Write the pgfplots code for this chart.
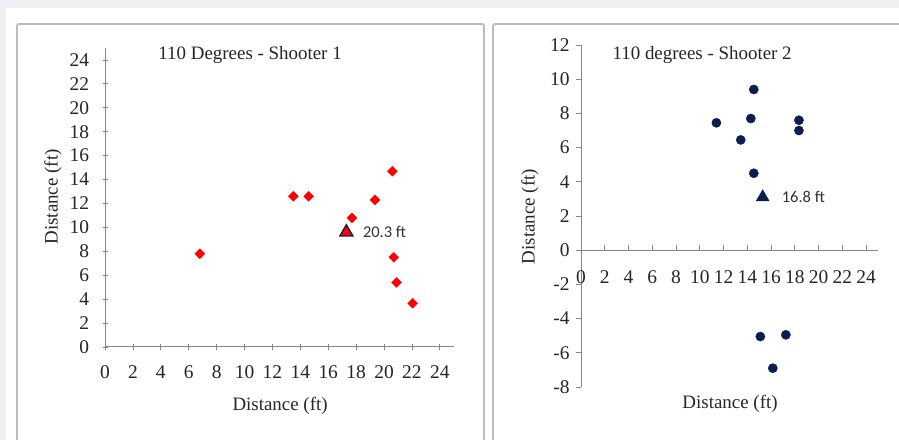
\documentclass[border=0pt]{standalone}
\usepackage{pgfplots}
\pgfplotsset{compat=1.18}
\usepackage{fontspec}
\setmainfont{Liberation Serif}
\newfontfamily\lblfont{Carlito}
\definecolor{bg}{RGB}{238,240,243}
\definecolor{framec}{RGB}{188,188,188}
\definecolor{navy}{RGB}{12,30,80}
\definecolor{axgray}{RGB}{134,134,134}
\pgfplotsset{
  myax/.style={
    scale only axis, clip=false,
    axis line style={-, axgray, line width=1bp},
    tick style={axgray, line width=0.8bp},
    major tick length=5bp,
    tick align=outside,
    ticklabel style={font=\fontsize{19.5}{21}\selectfont, text=black!85},
    title style={font=\fontsize{19}{22}\selectfont, text=black!85, anchor=center},
    /pgf/number format/assume math mode=true,
  }
}
\begin{document}
\begin{tikzpicture}
\useasboundingbox (0,0) rectangle (899bp,440bp);
\fill[bg] (0,0) rectangle (899bp,440bp);
\fill[white] (6bp,0) rectangle (899bp,432bp);
\draw[framec, line width=1.8bp, rounded corners=2bp] (17bp,-5bp) -- (17bp,416bp) -- (484bp,416bp) -- (484bp,-5bp);
\draw[framec, line width=1.8bp, rounded corners=2bp] (493bp,-5bp) -- (493bp,416bp) -- (905bp,416bp);

\begin{axis}[myax,
  at={(105bp,93bp)}, anchor=south west,
  width=348.8bp, height=299bp,
  xmin=0, xmax=25, ymin=0, ymax=25,
  axis x line=bottom, axis y line=left,
  x axis line style={-}, y axis line style={-},
  xtick={0,2,...,24}, ytick={0,2,...,24},
  xticklabel style={yshift=-13bp},
  yticklabel style={xshift=-10bp},
  title={110 Degrees - Shooter 1},
  title style={at={(axis description cs:0.416,0.956)}},
  xlabel={Distance (ft)}, ylabel={Distance (ft)},
  xlabel style={at={(axis description cs:0.502,-0.197)}, anchor=center, font=\fontsize{19}{22}\selectfont, text=black!85},
  ylabel style={at={(axis description cs:-0.149,0.502)}, anchor=center, font=\fontsize{19}{22}\selectfont, text=black!85},
]
\addplot[only marks, mark=square*, mark size=3.5bp, mark options={rotate=45, fill=red, draw=red}] coordinates {
(6.8,7.8) (13.5,12.6) (14.6,12.6) (17.7,10.8) (19.35,12.3)
(20.6,14.7) (20.7,7.5) (20.9,5.4) (22.05,3.65)
};
\addplot[only marks, mark=triangle*, mark size=7.5bp, mark options={fill=red, draw=navy, line width=1.3bp}] coordinates {(17.3,9.6)};
\node[anchor=west, inner sep=0pt, font=\lblfont\fontsize{16.5}{18}\selectfont, text=black!80, xshift=16.5bp] at (axis cs:17.3,9.6) {20.3 ft};
\end{axis}

\begin{axis}[myax,
  at={(581bp,53bp)}, anchor=south west,
  width=296.9bp, height=342bp,
  xmin=0, xmax=25, ymin=-8, ymax=12,
  axis x line=middle, axis y line=left,
  x axis line style={-}, y axis line style={-},
  hide obscured x ticks=false, hide obscured y ticks=false,
  tick align=outside,
  xtick={0,2,...,24}, ytick={-8,-6,...,12},
  x tick style={yshift=5bp},
  xticklabel style={yshift=-12bp},
  yticklabel style={xshift=-3bp},
  title={110 degrees - Shooter 2},
  title style={at={(axis description cs:0.408,0.954)}},
  xlabel={Distance (ft)}, ylabel={Distance (ft)},
  xlabel style={at={(axis description cs:0.502,-0.05)}, anchor=center, font=\fontsize{19}{22}\selectfont, text=black!85},
  ylabel style={at={(axis description cs:-0.172,0.498)}, anchor=center, rotate=0, font=\fontsize{19}{22}\selectfont, text=black!85},
]
\addplot[only marks, mark=*, mark size=4.6bp, mark options={fill=navy, draw=navy}] coordinates {
(11.4,7.45) (13.45,6.45) (14.3,7.7) (14.55,9.4) (14.55,4.5)
(18.35,7.6) (18.35,7.0) (15.1,-5.05) (17.25,-4.95) (16.15,-6.9)
};
\addplot[only marks, mark=triangle*, mark size=7.5bp, mark options={fill=navy, draw=navy}] coordinates {(15.3,3.1)};
\node[anchor=west, inner sep=0pt, font=\lblfont\fontsize{16.5}{18}\selectfont, text=black!80, xshift=19bp] at (axis cs:15.3,3.1) {16.8 ft};
\end{axis}
\end{tikzpicture}
\end{document}
